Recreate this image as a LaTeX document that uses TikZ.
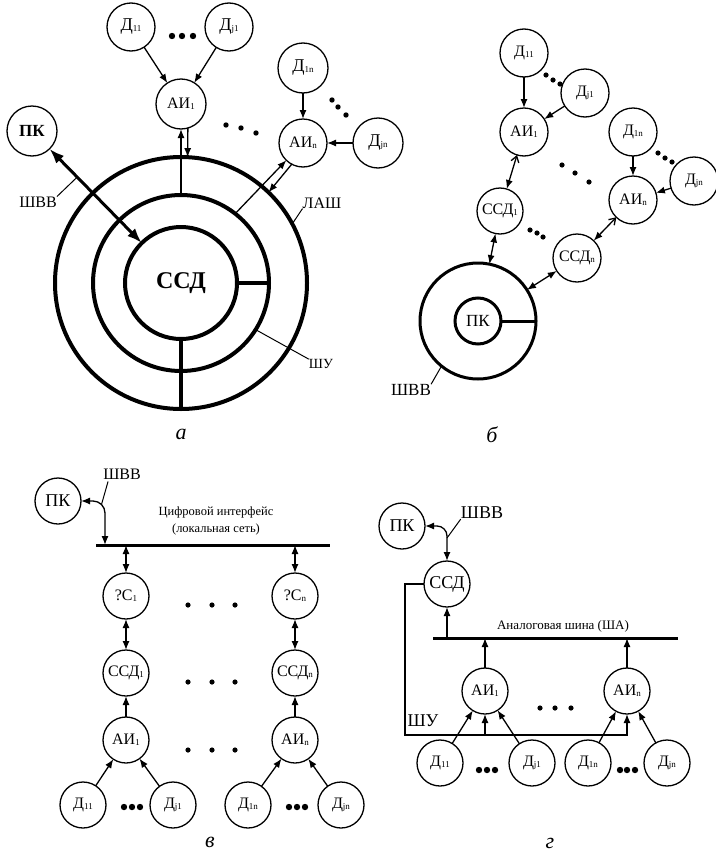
\documentclass[tikz,border=0pt]{standalone}
\usepackage{fontspec}
\setmainfont{Liberation Serif}
\usetikzlibrary{arrows.meta, positioning}

\newcommand{\fs}[1]{\fontsize{#1}{#1}\selectfont}
\newcommand{\ix}[1]{\raisebox{-0.8pt}{\fontsize{9}{9}\selectfont #1}}

\begin{document}
\begin{tikzpicture}[
    x=1pt, y=-1pt,
    unit/.style={
        draw,
        circle,
        line width=1.3pt,
        minimum size=46pt,
        inner sep=0pt,
        outer sep=0pt,
        font=\fs{16}
    },
    ring/.style={
        draw,
        circle,
        line width=4pt,
        inner sep=0pt,
        outer sep=0pt
    },
    arr/.style={
        -{Latex[length=9pt,width=7pt]},
        line width=1.3pt
    },
    dblarr/.style={
        {Latex[length=9pt,width=7pt]}-{Latex[length=9pt,width=7pt]},
        line width=1.3pt
    },
    openarr/.style={
        {Straight Barb[length=6pt,width=8pt]}-{Latex[length=9pt,width=7pt]},
        line width=1.3pt
    },
    bigarr/.style={
        {Latex[length=15pt,width=11pt]}-{Latex[length=15pt,width=11pt]},
        line width=3pt
    },
    bus/.style={line width=3pt},
    lead/.style={line width=1pt},
    lbl/.style={font=\fs{16}, inner sep=0pt},
    figcap/.style={font=\itshape\fs{22}, inner sep=0pt}
]
\useasboundingbox (0,0) rectangle (715,854);

% ===== a =====
% Nodes
\node (ssdA) [ring, minimum size=112pt, font=\bfseries\fs{24}] at (181,283) {ССД};
\node (shuA) [ring, minimum size=176pt] at (181,283) {};
\node (lashA) [ring, minimum size=252pt] at (181,283) {};
\node (pkA) [unit, minimum size=50pt, font=\bfseries\fs{17}] at (32,131) {ПК};
\node (d11A) [unit, minimum size=48pt, font=\fs{18}] at (131,27) {Д\ix{11}};
\node (dj1A) [unit, minimum size=48pt, font=\fs{18}] at (229,27) {Д\ix{j1}};
\node (ai1A) [unit, minimum size=50pt] at (181,104) {АИ\ix{1}};
\node (d1nA) [unit, minimum size=50pt, font=\fs{18}] at (303,68) {Д\ix{1n}};
\node (ainA) [unit, minimum size=48pt] at (303,143) {АИ\ix{n}};
\node (djnA) [unit, minimum size=50pt, font=\fs{18}] at (378,143) {Д\ix{jn}};
\node (shvvA) [lbl] at (38,202) {ШВВ};
\node (lashLbl) [lbl] at (322,203) {ЛАШ};
\node (shuLbl) [lbl, font=\fs{14}] at (321,364) {ШУ};
\node (capA) [figcap] at (181,434) {а};

% Paths
\draw [arr] (d11A) -- (ai1A);
\draw [arr] (dj1A) -- (ai1A);
\draw [arr] (d1nA) -- (ainA);
\draw [arr] (djnA) -- (ainA);
\draw [arr] (shuA.north) -- (ai1A.south);
\draw [arr] (ai1A.-74) -- (lashA.87);
\draw [arr] (shuA.52) -- (ainA.226);
\draw [arr] (ainA.242) -- (lashA.46);
\draw [line width=4pt] (ssdA.east) -- (shuA.east);
\draw [line width=4pt] (ssdA.south) -- (lashA.south);
\draw [bigarr] (pkA) -- coordinate[pos=0.3] (shvvPtA) (ssdA);
\draw [lead] (shvvA.north east) -- (shvvPtA);
\draw [lead] (lashLbl.south west) -- (lashA.28);
\draw [lead] (shuLbl.north west) -- (shuA.-32);

\foreach \p in {(172,36),(182,36),(193,36)} \fill \p circle (3.2);
\foreach \p in {(226,125),(241,128),(256,133),(332,100),(338,107),(346,115)} \fill \p circle (2.7);

% ===== b =====
% Nodes
\node (ringB) [ring, line width=3pt, minimum size=116pt] at (478,321) {};
\node (pkB) [unit, line width=3pt, font=\fs{17}] at (478,321) {ПК};
\node (d11B) [unit, minimum size=48pt] at (524,53) {Д\ix{11}};
\node (dj1B) [unit, minimum size=48pt] at (585,93) {Д\ix{j1}};
\node (ai1B) [unit, minimum size=48pt] at (524,132) {АИ\ix{1}};
\node (d1nB) [unit, minimum size=48pt] at (633,132) {Д\ix{1n}};
\node (djnB) [unit, minimum size=48pt] at (694,181) {Д\ix{jn}};
\node (ainB) [unit, minimum size=48pt] at (633,200) {АИ\ix{n}};
\node (ssd1B) [unit] at (500,211) {ССД\ix{1}};
\node (ssdnB) [unit, minimum size=48pt] at (577,258) {ССД\ix{n}};
\node (shvvB) [lbl, font=\fs{17}] at (411,390) {ШВВ};
\node (capB) [figcap] at (492,435) {б};

% Paths
\draw [arr] (d11B) -- (ai1B);
\draw [arr] (dj1B) -- (ai1B);
\draw [arr] (d1nB) -- (ainB);
\draw [arr] (djnB) -- (ainB);
\draw [openarr] (ai1B) -- (ssd1B);
\draw [openarr] (ainB) -- (ssdnB);
\draw [dblarr] (ssd1B) -- (ringB);
\draw [dblarr] (ssdnB) -- (ringB);
\draw [line width=3pt] (pkB.east) -- (ringB.east);
\draw [lead] (shvvB.north east) -- (ringB.231);

\foreach \p in {(546,75),(553,80),(560,84),(658,153),(665,158),(672,162),
                (562,165),(575,173),(589,182),(530,230),(537,233),(543,237)} \fill \p circle (2.6);

% ===== v =====
% Nodes
\node (pkV) [unit, font=\fs{18}] at (58,501) {ПК};
\node (shvvV) [lbl] at (122,474) {ШВВ};
\node (busTxtV) [font=\fontsize{12.5}{17}\selectfont, align=center, inner sep=0pt] at (216,521) {Цифровой интерфейс\\(локальная сеть)};
\coordinate (busLV) at (96,545);
\coordinate (busRV) at (330,545);
\coordinate (busInV) at (105,545);
\coordinate (shvvPtV) at (101.5,504.5);
\node (c1V) [unit] at (126,596) {?C\ix{1}};
\node (cnV) [unit] at (295,596) {?C\ix{n}};
\node (ssd1V) [unit] at (126,673) {ССД\ix{1}};
\node (ssdnV) [unit] at (295,673) {ССД\ix{n}};
\node (ai1V) [unit] at (126,740) {АИ\ix{1}};
\node (ainV) [unit] at (295,740) {АИ\ix{n}};
\node (d11V) [unit] at (83,805) {Д\ix{11}};
\node (dj1V) [unit] at (173,805) {Д\ix{j1}};
\node (d1nV) [unit] at (248,805) {Д\ix{1n}};
\node (djnV) [unit] at (341,805) {Д\ix{jn}};
\node (capV) [figcap] at (210,842) {в};

% Paths
\draw [bus] (busLV) -- (busRV);
\draw [dblarr, rounded corners=12pt] (pkV) -| (busInV);
\draw [lead] ([xshift=5pt,yshift=-2pt]shvvV.south west) -- (shvvPtV);
\draw [dblarr] (c1V |- busLV) -- (c1V);
\draw [dblarr] (cnV |- busLV) -- (cnV);
\draw [dblarr] (c1V) -- (ssd1V);
\draw [dblarr] (cnV) -- (ssdnV);
\draw [arr] (ai1V) -- (ssd1V);
\draw [arr] (ainV) -- (ssdnV);
\draw [arr] (d11V) -- (ai1V);
\draw [arr] (dj1V) -- (ai1V);
\draw [arr] (d1nV) -- (ainV);
\draw [arr] (djnV) -- (ainV);

\foreach \y in {605,682,750}
    \foreach \x in {188,212,235} \fill (\x,\y) circle (2.6);
\foreach \x in {124,132,140,289,297,305} \fill (\x,807) circle (3.2);

% ===== g =====
% Nodes
\node (pkG) [unit, font=\fs{18}] at (402,526) {ПК};
\node (ssdG) [unit, font=\fs{18}] at (447,584) {ССД};
\node (shvvG) [lbl, font=\fs{18}] at (482,513) {ШВВ};
\coordinate (shvvPtG) at (447,538);
\coordinate (busLG) at (433,638);
\coordinate (busRG) at (678,638);
\node (busTxtG) [font=\fs{13}, inner sep=0pt] at (563,626) {Аналоговая шина (ША)};
\node (ai1G) [unit] at (485,691) {АИ\ix{1}};
\node (ainG) [unit] at (627,691) {АИ\ix{n}};
\coordinate (shuLG) at (405,735);
\node (shuG) [lbl, font=\fs{18}] at (423,721) {ШУ};
\node (d11G) [unit] at (440,763) {Д\ix{11}};
\node (dj1G) [unit] at (532,763) {Д\ix{j1}};
\node (d1nG) [unit] at (588,763) {Д\ix{1n}};
\node (djnG) [unit] at (667,763) {Д\ix{jn}};
\node (capG) [figcap] at (550,843) {г};

% Paths
\draw [dblarr, rounded corners=10pt] (pkG) -| (ssdG);
\draw [lead] (shvvG.south west) -- (shvvPtG);
\draw [bus] (busLG) -- (busRG);
\draw [arr] (ssdG |- busLG) -- (ssdG);
\draw [arr] (ai1G) -- (ai1G |- busLG);
\draw [arr] (ainG) -- (ainG |- busLG);
\draw [arr] (ssdG.west) -| (shuLG) -| (ainG.south);
\draw [arr] (ai1G |- shuLG) -- (ai1G);
\draw [arr] (d11G) -- (ai1G);
\draw [arr] (dj1G) -- (ai1G);
\draw [arr] (d1nG) -- (ainG);
\draw [arr] (djnG) -- (ainG);

\foreach \x in {540,555,571} \fill (\x,708) circle (2.6);
\foreach \x in {479,487,495,620,627,635} \fill (\x,770) circle (3.2);

\end{tikzpicture}
\end{document}
